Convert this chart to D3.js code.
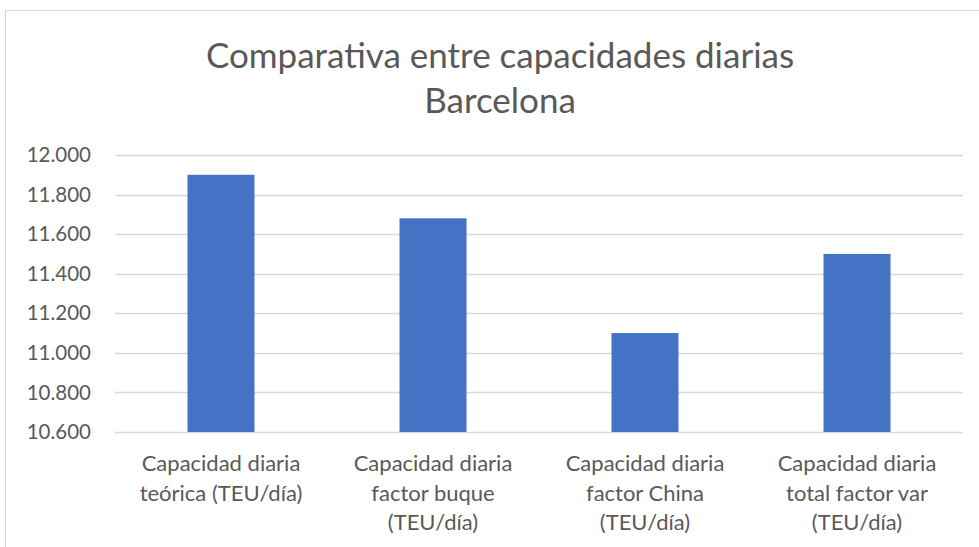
<!DOCTYPE html>
<html>
<head>
<meta charset="utf-8">
<script src="https://cdn.jsdelivr.net/npm/d3@7"></script>
<style>
    body { margin: 0; background: #fff; }
    svg { display: block; font-family: Lato, "Open Sans", sans-serif; }
</style>
</head>
<body>
<div id="chart"></div>
<script>
// Data
const categories = [
    ["Capacidad diaria", "teórica (TEU/día)"],
    ["Capacidad diaria", "factor buque", "(TEU/día)"],
    ["Capacidad diaria", "factor China", "(TEU/día)"],
    ["Capacidad diaria", "total factor var", "(TEU/día)"]
];
const values = [11900, 11680, 11100, 11500];
const yTicks = [10600, 10800, 11000, 11200, 11400, 11600, 11800, 12000];
const titleLines = ["Comparativa entre capacidades diarias", "Barcelona"];

// Layout
const width = 979;
const height = 547;
const margin = {top: 155, right: 16, bottom: 115, left: 115};
const textColor = "#595959";
const gridColor = "#d9d9d9";
const barColor = "#4472c4";

const svg = d3.select("#chart")
    .append("svg")
    .attr("width", width)
    .attr("height", height);

// chart frame
svg.append("rect")
    .attr("x", 5.5)
    .attr("y", 10.5)
    .attr("width", width + 10)
    .attr("height", height + 10)
    .attr("fill", "#fff")
    .attr("stroke", "#d9d9d9")
    .attr("stroke-width", 1);

const xScale = d3.scaleBand()
    .domain(d3.range(categories.length))
    .range([margin.left, width - margin.right])
    .paddingInner(0.684)
    .paddingOuter(0.342);

const yScale = d3.scaleLinear()
    .domain([10600, 12000])
    .range([height - margin.bottom, margin.top]);

// gridlines
svg.append("g")
    .selectAll("line")
    .data(yTicks)
    .join("line")
    .attr("x1", margin.left)
    .attr("x2", width - margin.right)
    .attr("y1", d => Math.round(yScale(d)) + 0.5)
    .attr("y2", d => Math.round(yScale(d)) + 0.5)
    .attr("stroke", gridColor)
    .attr("stroke-width", 1.3);

// y axis labels
const fmt = d => d3.format(",")(d).replace(",", ".");
svg.append("g")
    .selectAll("text")
    .data(yTicks)
    .join("text")
    .attr("x", 91)
    .attr("y", d => yScale(d))
    .attr("dy", "0.35em")
    .attr("text-anchor", "end")
    .attr("fill", textColor)
    .style("font-size", "20.5px")
    .text(fmt);

// bars
svg.append("g")
    .selectAll("rect")
    .data(values)
    .join("rect")
    .attr("x", (d, i) => xScale(i))
    .attr("width", xScale.bandwidth())
    .attr("y", d => yScale(d))
    .attr("height", d => yScale(10600) - yScale(d))
    .attr("fill", barColor);

// category labels
const catG = svg.append("g")
    .selectAll("text")
    .data(categories)
    .join("text")
    .attr("x", (d, i) => xScale(i) + xScale.bandwidth() / 2)
    .attr("y", 463)
    .attr("text-anchor", "middle")
    .attr("fill", textColor)
    .style("font-size", "22px");
catG.selectAll("tspan")
    .data(d => d)
    .join("tspan")
    .attr("x", function() { return this.parentNode.getAttribute("x"); })
    .attr("dy", (d, i) => i === 0 ? "0.35em" : "29.8px")
    .text(d => d);

// title
svg.append("g")
    .selectAll("text")
    .data(titleLines)
    .join("text")
    .attr("x", 500)
    .attr("y", (d, i) => 56 + i * 45)
    .attr("dy", "0.35em")
    .attr("text-anchor", "middle")
    .attr("fill", textColor)
    .style("font-size", "35px")
    .text(d => d);
</script>
</body>
</html>
